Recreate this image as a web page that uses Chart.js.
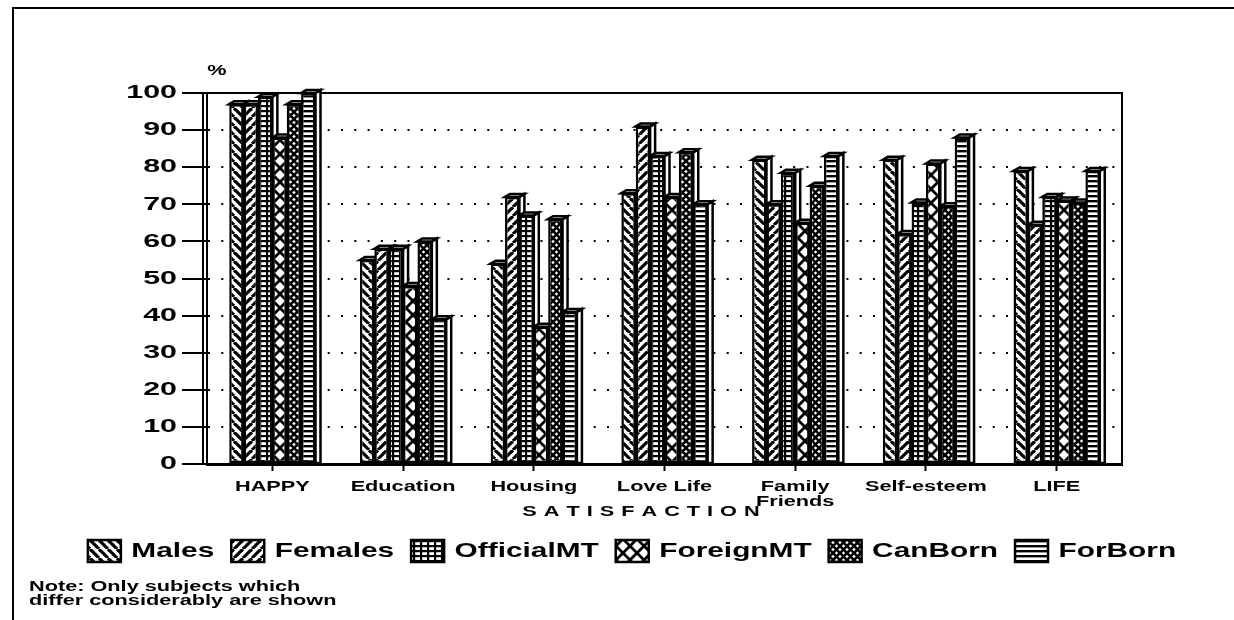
<!DOCTYPE html>
<html>
<head>
<meta charset="utf-8">
<script src="https://cdn.jsdelivr.net/npm/chart.js@4.4.0/dist/chart.umd.min.js"></script>
<style>
html,body{margin:0;padding:0;background:#fff;}
#c{display:block;}
</style>
</head>
<body>
<canvas id="c" width="1234" height="620"></canvas>
<script>
// ---------- data ----------
const categories = ['HAPPY', 'Education', 'Housing', 'Love Life', ['Family', 'Friends'], 'Self-esteem', 'LIFE'];
const seriesNames = ['Males', 'Females', 'OfficialMT', 'ForeignMT', 'CanBorn', 'ForBorn'];
const males      = [97, 55, 54, 73, 82, 82, 79];
const females    = [97, 58, 72, 91, 70, 62, 64.5];
const officialMT = [99, 58, 67, 83, 78.5, 70.5, 72];
const foreignMT  = [88, 48, 37, 72, 65, 81, 71];
const canBorn    = [97, 60, 66, 84, 75, 69.5, 70.5];
const forBorn    = [100, 39, 41, 70, 83, 88, 79];
const yTickValues = [0, 10, 20, 30, 40, 50, 60, 70, 80, 90, 100];
const axisTitle = 'SATISFACTION';
const unitLabel = '%';
const noteLines = ['Note: Only subjects which', 'differ considerably are shown'];

// ---------- canvas / stretched text ----------
const canvas = document.getElementById('c');
const ctx = canvas.getContext('2d');
const STRETCH = {19: 1.6, 21: 1.42, 14: 1.55};
function sxFor(font) {
  const m = /(\d+(?:\.\d+)?)px/.exec(font);
  const s = m ? parseFloat(m[1]) : 12;
  return STRETCH[s] || 1.5;
}
const _fill = ctx.fillText.bind(ctx);
const _measure = ctx.measureText.bind(ctx);
ctx.fillText = function (t, x, y, mw) {
  const sx = sxFor(ctx.font);
  ctx.save();
  ctx.translate(x, y);
  ctx.scale(sx, 1);
  if (mw === undefined || mw === null) _fill(t, 0, 0); else _fill(t, 0, 0, mw / sx);
  ctx.restore();
};
ctx.measureText = function (t) {
  const m = _measure(t);
  const sx = sxFor(ctx.font);
  return {
    width: m.width * sx,
    actualBoundingBoxLeft: m.actualBoundingBoxLeft * sx,
    actualBoundingBoxRight: m.actualBoundingBoxRight * sx,
    actualBoundingBoxAscent: m.actualBoundingBoxAscent,
    actualBoundingBoxDescent: m.actualBoundingBoxDescent,
    fontBoundingBoxAscent: m.fontBoundingBoxAscent,
    fontBoundingBoxDescent: m.fontBoundingBoxDescent
  };
};

// ---------- patterns ----------
function pat(draw, w, h) {
  const c = document.createElement('canvas');
  c.width = w; c.height = h;
  const g = c.getContext('2d');
  g.fillStyle = '#fff'; g.fillRect(0, 0, w, h);
  g.strokeStyle = '#000'; g.fillStyle = '#000';
  draw(g, w, h);
  return ctx.createPattern(c, 'repeat');
}
const patterns = [
  pat((g, w, h) => { g.lineWidth = 3.2; for (let k = -1; k <= 1; k++) { g.beginPath(); g.moveTo(k * w, 0); g.lineTo(k * w + w, h); g.stroke(); } }, 9, 9),
  pat((g, w, h) => { g.lineWidth = 3.2; for (let k = -1; k <= 1; k++) { g.beginPath(); g.moveTo(k * w + w, 0); g.lineTo(k * w, h); g.stroke(); } }, 9, 9),
  pat((g, w, h) => { g.fillRect(0, 0, w, 2.2); g.fillRect(0, 0, 2.2, h); }, 7, 5),
  pat((g, w, h) => { g.lineWidth = 2.8; g.beginPath(); g.moveTo(0, 0); g.lineTo(w, h); g.moveTo(w, 0); g.lineTo(0, h); g.stroke(); }, 14, 14),
  pat((g, w, h) => { g.lineWidth = 2.6; for (let k = -1; k <= 1; k++) { g.beginPath(); g.moveTo(k * w, 0); g.lineTo(k * w + w, h); g.moveTo(k * w + w, 0); g.lineTo(k * w, h); g.stroke(); } }, 7, 7),
  pat((g, w, h) => { g.fillRect(0, 0, w, 2.4); }, 4, 5)
];

const seriesValues = [males, females, officialMT, foreignMT, canBorn, forBorn];

// ---------- plugins ----------
const framePlugin = {
  id: 'frame',
  beforeDatasetsDraw(chart) {
    const c = chart.ctx, a = chart.chartArea;
    c.save();
    c.strokeStyle = '#000'; c.lineWidth = 2;
    c.beginPath();
    c.moveTo(a.left - 4, a.bottom); c.lineTo(a.left - 4, a.top);
    c.lineTo(a.right, a.top); c.lineTo(a.right, a.bottom);
    c.stroke();
    c.restore();
  }
};
const depthPlugin = {
  id: 'depth',
  beforeDatasetsDraw(chart) {
    const c = chart.ctx;
    const D = 5, DY = 3;
    c.save();
    c.lineWidth = 2.5; c.strokeStyle = '#000'; c.fillStyle = '#fff';
    chart.data.datasets.forEach((ds, i) => {
      const meta = chart.getDatasetMeta(i);
      meta.data.forEach(bar => {
        const p = bar.getProps(['x', 'y', 'base', 'width'], true);
        const l = p.x - p.width / 2, r = p.x + p.width / 2;
        c.beginPath();
        c.moveTo(r, p.y); c.lineTo(r + D, p.y - DY); c.lineTo(r + D, p.base); c.lineTo(r, p.base); c.closePath();
        c.fill(); c.stroke();
        c.beginPath();
        c.moveTo(l, p.y); c.lineTo(l + D, p.y - DY); c.lineTo(r + D, p.y - DY); c.lineTo(r, p.y); c.closePath();
        c.fill(); c.stroke();
      });
    });
    c.restore();
  }
};
const annotPlugin = {
  id: 'annot',
  afterDraw(chart) {
    const c = chart.ctx, a = chart.chartArea;
    c.save();
    c.strokeStyle = '#000'; c.lineWidth = 2;
    c.beginPath(); c.moveTo(13, 620); c.lineTo(13, 8); c.lineTo(1234, 8); c.stroke();
    c.fillStyle = '#000';
    c.font = "bold 14px 'Liberation Sans', Arial, sans-serif";
    c.textBaseline = 'middle';
    c.textAlign = 'center';
    c.fillText(unitLabel, a.left + 10, 71);
    const chars = [...axisTitle];
    const gap = 7;
    const widths = chars.map(ch => c.measureText(ch).width);
    const total = widths.reduce((s, w) => s + w, 0) + gap * (chars.length - 1);
    let x = 641 - total / 2;
    c.textAlign = 'left';
    chars.forEach((ch, i) => { c.fillText(ch, x, 512); x += widths[i] + gap; });
    c.fillText(noteLines[0], 29, 587);
    c.fillText(noteLines[1], 29, 601);
    c.restore();
  }
};

// ---------- chart ----------
Chart.defaults.font.family = "'Liberation Sans', Arial, sans-serif";
Chart.defaults.font.weight = 'bold';
Chart.defaults.color = '#000';

new Chart(canvas, {
  type: 'bar',
  data: {
    labels: categories,
    datasets: seriesNames.map((name, i) => ({
      label: name,
      data: seriesValues[i],
      backgroundColor: patterns[i],
      borderColor: '#000',
      borderWidth: 2.5,
      borderSkipped: false,
      categoryPercentage: 0.66,
      barPercentage: 1.0
    }))
  },
  options: {
    responsive: false,
    animation: false,
    devicePixelRatio: 1,
    layout: { padding: { left: 30, right: 0, top: 93, bottom: 48 } },
    plugins: {
      legend: {
        position: 'bottom',
        labels: {
          boxWidth: 33, boxHeight: 22, padding: 17, color: '#000',
          font: { size: 21, weight: 'bold' }
        }
      },
      tooltip: { enabled: false },
      title: { display: false }
    },
    scales: {
      x: {
        grid: { display: true, drawOnChartArea: false, drawTicks: true, tickLength: 7, offset: false, tickColor: '#000', tickWidth: 2, color: '#000' },
        border: { display: true, color: '#000', width: 3 },
        ticks: { color: '#000', font: { size: 14, weight: 'bold', lineHeight: 1.1 }, padding: 8, maxRotation: 0, autoSkip: false },
        afterFit(s) { s.height = 59; }
      },
      y: {
        min: 0, max: 100,
        afterBuildTicks(s) { s.ticks = yTickValues.map(v => ({ value: v })); },
        ticks: { color: '#000', font: { size: 19, weight: 'bold' }, padding: 5 },
        grid: { color: '#000', lineWidth: 2, tickLength: 25, tickColor: '#000', tickWidth: 2, tickBorderDash: [], drawTicks: true },
        border: { display: true, color: '#000', width: 2, dash: [2, 11.3] },
        afterFit(s) { s.width = 177; }
      },
      yRight: {
        position: 'right',
        display: true,
        grid: { display: false },
        border: { display: false },
        ticks: { display: false },
        afterFit(s) { s.width = 112; }
      }
    }
  },
  plugins: [framePlugin, depthPlugin, annotPlugin]
});
</script>
</body>
</html>
